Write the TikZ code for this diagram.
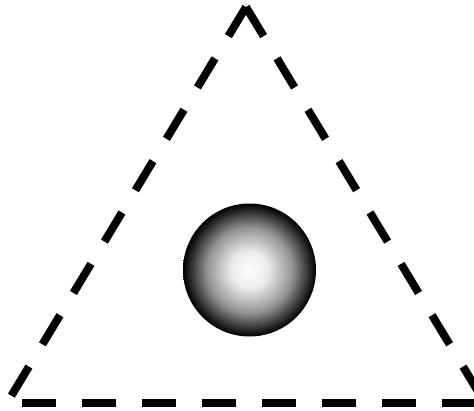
\documentclass[tikz,border=0pt]{standalone}
\usepackage{xcolor}
\usepackage{tikz}
\usetikzlibrary{positioning,calc}
\pgfdeclareradialshading{sphereshade}{\pgfpoint{0bp}{0bp}}{%
  color(0bp)=(white); color(7bp)=(white!92!black);
  color(16bp)=(white!58!black); color(25bp)=(black); color(50bp)=(black)}

\begin{document}
\begin{tikzpicture}[
  x=1pt, y=-1pt,
  side/.style={line width=8pt, dash pattern=on 34pt off 26pt},
  sphere/.style={circle, minimum size=133pt, inner sep=0pt,
                 shading=sphereshade}
]
  \useasboundingbox (0,0) rectangle (474,410);
  % corners of the triangle
  \coordinate (apex) at (246,7);
  \coordinate (bl) at (7,403);
  \coordinate (br) at (485,403);
  % sides
  \draw[side] (apex) -- (bl);
  \draw[side] (apex) -- (br);
  \draw[side, dash phase=45pt] (bl) -- (br);
  % ball
  \node[sphere] (ball) at (249.5,270) {};
\end{tikzpicture}
\end{document}
